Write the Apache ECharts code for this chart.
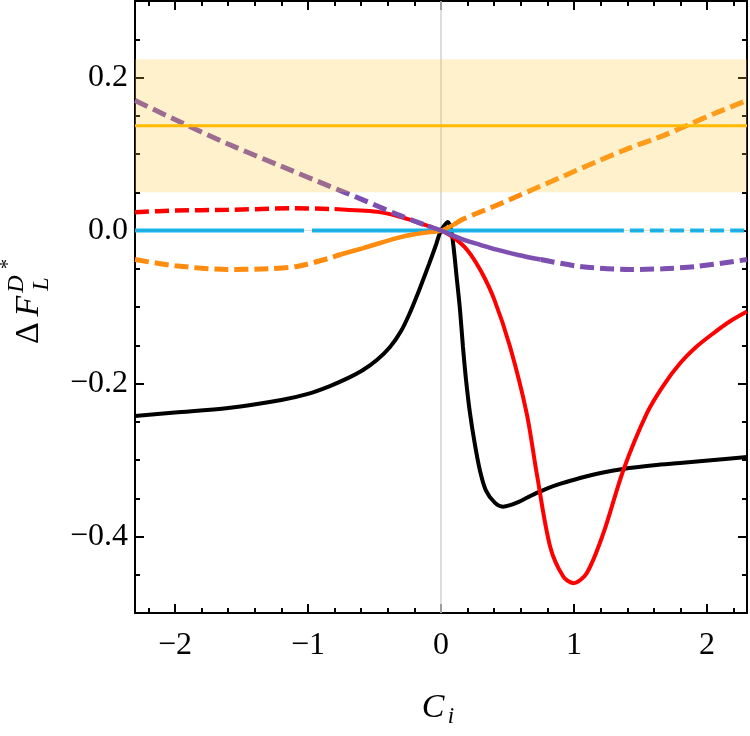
<!DOCTYPE html>
<html>
<head>
<meta charset="utf-8">
<script src="https://cdn.jsdelivr.net/npm/echarts@6/dist/echarts.min.js"></script>
<style>
html, body { margin: 0; padding: 0; background: #fff; }
#chart { width: 750px; height: 736px; }
</style>
</head>
<body>
<div id="chart"></div>
<script>
// axis ticks
var xMajorTicks = [-2, -1, 0, 1, 2];
var xMinorTicks = [-2.2, -1.8, -1.6, -1.4, -1.2, -0.8, -0.6, -0.4, -0.2, 0.2, 0.4, 0.6, 0.8, 1.2, 1.4, 1.6, 1.8, 2.2];
var yMajorTicks = [-0.4, -0.2, 0, 0.2];
var yMinorTicks = [-0.45, -0.35, -0.3, -0.25, -0.15, -0.1, -0.05, 0.05, 0.1, 0.15, 0.25];

// measured band (central value and 1 sigma)
var bandX = [-2.3, 2.3];
var bandCentral = [0.137, 0.137];
var bandLow = 0.05;
var bandHigh = 0.224;

// black curve
var blackX = [-2.3, -2.0, -1.6, -1.2, -1.0, -0.835, -0.7, -0.586, -0.48, -0.383, -0.3, -0.233, -0.18, -0.135, -0.09, -0.04, 0, 0.053, 0.083, 0.12, 0.143, 0.165, 0.188, 0.218, 0.256, 0.293, 0.338, 0.406, 0.466, 0.52, 0.58, 0.65, 0.72, 0.8, 0.9, 1.045, 1.2, 1.368, 1.6, 1.797, 2.05, 2.3];
var blackY = [-0.2425, -0.238, -0.232, -0.2215, -0.2135, -0.2033, -0.193, -0.1824, -0.169, -0.1523, -0.1314, -0.1073, -0.085, -0.0647, -0.044, -0.02, 0, 0.011, -0.006, -0.065, -0.104, -0.152, -0.195, -0.239, -0.281, -0.314, -0.34, -0.356, -0.361, -0.359, -0.355, -0.349, -0.343, -0.337, -0.331, -0.3235, -0.317, -0.3118, -0.307, -0.304, -0.3, -0.2961];

// red curve
var redDashX = [-2.3, -2.0, -1.6, -1.1, -0.8];
var redDashY = [0.024, 0.026, 0.027, 0.029, 0.028];
var redX = [-0.8, -0.6, -0.46, -0.33, -0.23, -0.15, -0.08, 0, 0.1, 0.2, 0.3, 0.4, 0.519, 0.644, 0.72, 0.82, 0.92, 0.995, 1.095, 1.22, 1.371, 1.547, 1.67, 1.797, 1.92, 2.047, 2.17, 2.3];
var redY = [0.028, 0.026, 0.024, 0.019, 0.014, 0.009, 0.005, 0, -0.01, -0.026, -0.053, -0.09, -0.152, -0.239, -0.318, -0.413, -0.4526, -0.461, -0.448, -0.396, -0.313, -0.239, -0.203, -0.1736, -0.152, -0.1344, -0.119, -0.106];

// orange curve
var orangeDashLX = [-2.3, -2.0, -1.6, -1.3, -1.085, -0.835, -0.75];
var orangeDashLY = [-0.038, -0.046, -0.051, -0.05, -0.047, -0.036, -0.031];
var orangeX = [-0.75, -0.584, -0.45, -0.333, -0.2, -0.083, 0, 0.1];
var orangeY = [-0.031, -0.023, -0.016, -0.01, -0.005, -0.002, 0, 0.008];
var orangeDashRX = [0.1, 0.168, 0.419, 0.669, 0.92, 1.17, 1.42, 1.67, 1.87, 2.07, 2.3];
var orangeDashRY = [0.008, 0.015, 0.033, 0.052, 0.071, 0.09, 0.108, 0.124, 0.139, 0.154, 0.17];

// purple curve
var purpleDashLX = [-2.3, -2.0, -1.6, -1.2, -0.84, -0.6, -0.33, -0.1];
var purpleDashLY = [0.17, 0.145, 0.113, 0.084, 0.058, 0.041, 0.021, 0.006];
var purpleX = [-0.1, 0, 0.168, 0.3, 0.419, 0.58, 0.75];
var purpleY = [0.006, 0, -0.012, -0.019, -0.025, -0.032, -0.038];
var purpleDashRX = [0.75, 1.045, 1.42, 1.67, 1.92, 2.3];
var purpleDashRY = [-0.038, -0.047, -0.051, -0.05, -0.047, -0.038];

// cyan curve (flat)
var cyanX1 = [-2.3, -1.03];
var cyanX2 = [-0.97, 1.27];
var cyanDashX = [1.27, 2.3];
var cyanY = [0, 0];

var SERIF = '"Liberation Serif", "DejaVu Serif", serif';

var zip = function (xs, ys) {
    var out = [];
    for (var i = 0; i < xs.length; i++) {
        out.push([xs[i], ys[i]]);
    }
    return out;
};

var curve = function (xs, ys, color, width, dashed, z) {
    return {
        type: 'line', data: zip(xs, ys), symbol: 'none', showSymbol: false, z: z || 2,
        smooth: 0.3,
        lineStyle: {color: color, width: width, type: dashed ? [14, 6] : 'solid', cap: 'butt'},
        silent: true
    };
};

var minus = function (s) {
    return String(s).replace('-', '\u2212');
};

var xAxisFor = function (pos, ticks, len, main, labels) {
    return {
        type: 'value', min: -2.3, max: 2.3, position: pos,
        axisLine: {show: main, onZero: false, lineStyle: {color: '#000', width: 2}},
        axisTick: {show: true, inside: true, length: len, customValues: ticks, lineStyle: {color: '#000', width: 2}},
        axisLabel: {
            show: labels, customValues: xMajorTicks, margin: 17, color: '#000',
            fontFamily: SERIF, fontSize: 32,
            formatter: function (v) { return minus(Math.round(v)); }
        },
        splitLine: {show: false}
    };
};

var yAxisFor = function (pos, ticks, len, main, labels) {
    return {
        type: 'value', min: -0.5, max: 0.3, position: pos,
        axisLine: {show: main, onZero: false, lineStyle: {color: '#000', width: 2}},
        axisTick: {show: true, inside: true, length: len, customValues: ticks, lineStyle: {color: '#000', width: 2}},
        axisLabel: {
            show: labels, customValues: yMajorTicks, margin: 7, color: '#000',
            fontFamily: SERIF, fontSize: 32,
            formatter: function (v) { return minus(v.toFixed(1)); }
        },
        splitLine: {show: false}
    };
};

var glyph = function (text, x, y, size, italic, rotate) {
    return {
        type: 'text', x: x, y: y, rotation: rotate ? Math.PI / 2 : 0, silent: true,
        style: {
            text: text, fill: '#000', fontFamily: SERIF, fontSize: size,
            fontStyle: italic ? 'italic' : 'normal', align: 'center', verticalAlign: 'middle'
        }
    };
};

var chart = echarts.init(document.getElementById('chart'));

var series = [
    // x = 0 guide, behind the curves
    {
        type: 'line', data: [], z: 1, silent: true,
        markLine: {
            z: 1, symbol: 'none', silent: true, label: {show: false},
            lineStyle: {color: '#d2d2d2', width: 1.5, type: 'solid'},
            data: [{xAxis: 0}]
        }
    },
    curve(blackX, blackY, '#000000', 4),
    curve(redDashX, redDashY, '#ff0000', 4.5, true),
    curve(redX, redY, '#ff0000', 4),
    curve(cyanX1, cyanY, '#14b6f0', 4),
    curve(cyanX2, cyanY, '#14b6f0', 4),
    curve(cyanDashX, cyanY, '#14b6f0', 4, true),
    curve(orangeDashLX, orangeDashLY, '#ff8c0f', 5, true),
    curve(orangeX, orangeY, '#ff8c0f', 4.5),
    curve(orangeDashRX, orangeDashRY, '#ff8c0f', 5, true),
    curve(purpleDashLX, purpleDashLY, '#7d4fb0', 5, true),
    curve(purpleX, purpleY, '#7d4fb0', 4.5),
    curve(purpleDashRX, purpleDashRY, '#7d4fb0', 5, true),
    // band, laid over the curves
    {
        type: 'line', data: [], z: 3, silent: true,
        markArea: {
            z: 3, silent: true,
            itemStyle: {color: 'rgba(250, 200, 50, 0.25)'},
            data: [[{yAxis: bandLow}, {yAxis: bandHigh}]]
        }
    },
    curve(bandX, bandCentral, '#ffb900', 3, false, 4),
    // y = 0 guide
    {
        type: 'line', data: [], z: 5, silent: true,
        markLine: {
            z: 5, symbol: 'none', silent: true, label: {show: false},
            lineStyle: {color: 'rgba(120, 120, 120, 0.25)', width: 1, type: 'solid'},
            data: [{yAxis: 0}]
        }
    }
];

chart.setOption({
    animation: false,
    backgroundColor: '#fff',
    grid: {left: 135, right: 3, top: 1, bottom: 123, containLabel: false, outerBoundsMode: 'none'},
    xAxis: [
        xAxisFor('bottom', xMajorTicks, 9, true, true),
        xAxisFor('top', xMajorTicks, 9, true, false),
        xAxisFor('bottom', xMinorTicks, 5, false, false),
        xAxisFor('top', xMinorTicks, 5, false, false)
    ],
    yAxis: [
        yAxisFor('left', yMajorTicks, 9, true, true),
        yAxisFor('right', yMajorTicks, 9, true, false),
        yAxisFor('left', yMinorTicks, 5, false, false),
        yAxisFor('right', yMinorTicks, 5, false, false)
    ],
    series: series,
    graphic: [
        glyph('\u0394', 29, 333, 34, false, true),
        glyph('F', 29, 306, 34, true, true),
        glyph('L', 42, 284, 24, true, true),
        glyph('D', 17, 284, 24, true, true),
        glyph('*', 9, 264, 20, false, true),
        glyph('C', 433, 708, 34, true, false),
        glyph('i', 451, 717, 23, true, false)
    ]
});
</script>
</body>
</html>
